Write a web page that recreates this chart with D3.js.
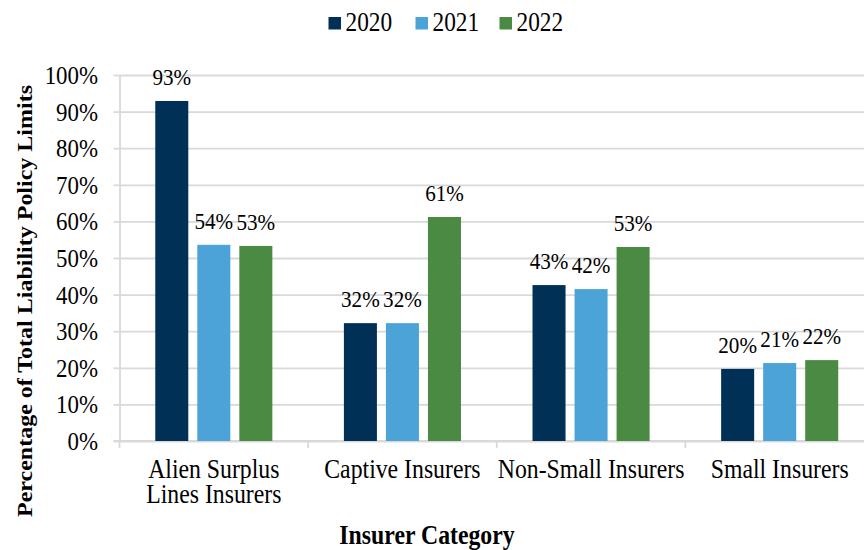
<!DOCTYPE html>
<html><head><meta charset="utf-8">
<script src="https://cdn.jsdelivr.net/npm/d3@7"></script>
<style>body{margin:0;background:#fff}svg{display:block}
svg text{font-family:"Liberation Serif","Times New Roman",Tinos,"DejaVu Serif",serif !important;}</style>
</head><body>
<svg id="chart" width="864" height="550"></svg>
<script>
const categories = ["Alien Surplus Lines Insurers", "Captive Insurers", "Non-Small Insurers", "Small Insurers"];
const categoryLines = [["Alien Surplus", "Lines Insurers"], ["Captive Insurers"], ["Non-Small Insurers"], ["Small Insurers"]];
const years = ["2020", "2021", "2022"];
const values2020 = [92.9, 32.2, 42.6, 19.7];
const values2021 = [53.6, 32.2, 41.5, 21.3];
const values2022 = [53.3, 61.2, 53.0, 22.1];
const yTicks = [0, 10, 20, 30, 40, 50, 60, 70, 80, 90, 100];
const colors = ["#003056", "#4ba3d7", "#4a8a43"];

const series = [values2020, values2021, values2022];
const SX = 0.88;
const svg = d3.select("#chart");

const plotL = 119.5, plotR = 874, plotT = 75, plotB = 441;
const x0 = d3.scaleBand().domain(categories).range([plotL, plotR]).padding(0);
const x1 = d3.scaleBand().domain(years).range([0, x0.bandwidth()]).paddingInner(0.2143).paddingOuter(0.851);
const y = d3.scaleLinear().domain([0, 100]).range([plotB, plotT]);

// gridlines + y axis
const yAxis = svg.append("g").attr("transform", `translate(${plotL},0)`)
  .call(d3.axisLeft(y).tickValues(yTicks).tickSize(6).tickSizeOuter(0).tickFormat(d => d + "%"));
yAxis.attr("font-family", null).attr("font-size", null);
yAxis.select(".domain").attr("stroke", "#d9d9d9").attr("stroke-width", 1.8);
yAxis.selectAll(".tick line").attr("stroke", "#d9d9d9").attr("stroke-width", 1.8);
yAxis.selectAll(".tick").append("line").attr("x1", 0).attr("x2", plotR - plotL)
  .attr("stroke", "#d9d9d9").attr("stroke-width", 1.8);
yAxis.selectAll(".tick text").attr("x", -21.5 / SX).attr("dy", "0.33em")
  .attr("font-size", 26).attr("fill", "#000")
  .attr("transform", `scale(${SX},1)`);

// x axis line and ticks
const xAxis = svg.append("g");
xAxis.append("line").attr("x1", plotL - 6).attr("x2", plotR).attr("y1", plotB).attr("y2", plotB)
  .attr("stroke", "#d9d9d9").attr("stroke-width", 1.8);
xAxis.selectAll("line.tk").data(categories).join("line").attr("class", "tk")
  .attr("x1", d => x0(d)).attr("x2", d => x0(d)).attr("y1", plotB).attr("y2", plotB + 7)
  .attr("stroke", "#d9d9d9").attr("stroke-width", 1.8);

// x labels
categories.forEach((c, i) => {
  const cx = x0(c) + x0.bandwidth() / 2;
  const t = svg.append("text").attr("transform", `translate(${cx},478) scale(${SX},1)`)
    .attr("text-anchor", "middle").attr("font-size", 27).attr("fill", "#000");
  categoryLines[i].forEach((ln, j) => {
    t.append("tspan").attr("x", 0).attr("y", j * 25).text(ln);
  });
});

// bars
const groups = svg.append("g").selectAll("g").data(categories).join("g")
  .attr("transform", d => `translate(${x0(d)},0)`);
years.forEach((yr, k) => {
  groups.append("rect")
    .attr("x", x1(yr)).attr("width", x1.bandwidth())
    .attr("y", (d, i) => y(series[k][i])).attr("height", (d, i) => plotB - y(series[k][i]))
    .attr("fill", colors[k]);
  groups.append("text")
    .attr("transform", (d, i) => `translate(${x1(yr) + x1.bandwidth() / 2},${y(series[k][i]) - 16}) scale(${SX},1)`)
    .attr("text-anchor", "middle").attr("font-size", 24).attr("fill", "#000")
    .text((d, i) => Math.round(series[k][i]) + "%");
});

// legend
const legend = svg.append("g");
const legX = [328.5, 415.5, 499.5];
years.forEach((yr, k) => {
  legend.append("rect").attr("x", legX[k]).attr("y", 17).attr("width", 12.5).attr("height", 12.5).attr("fill", colors[k]);
  legend.append("text").attr("transform", `translate(${legX[k] + 17},31) scale(${SX},1)`)
    .attr("font-size", 26.5).attr("fill", "#000").text(yr);
});

// axis titles
svg.append("text").attr("transform", `translate(427,544) scale(${SX},1)`)
  .attr("text-anchor", "middle").attr("font-size", 27).attr("font-weight", "bold").text("Insurer Category");
svg.append("text").attr("transform", `translate(31.5,301) rotate(-90) scale(1,${SX})`)
  .attr("text-anchor", "middle").attr("font-size", 24).attr("font-weight", "bold")
  .text("Percentage of Total Liability Policy Limits");
</script>
</body></html>
